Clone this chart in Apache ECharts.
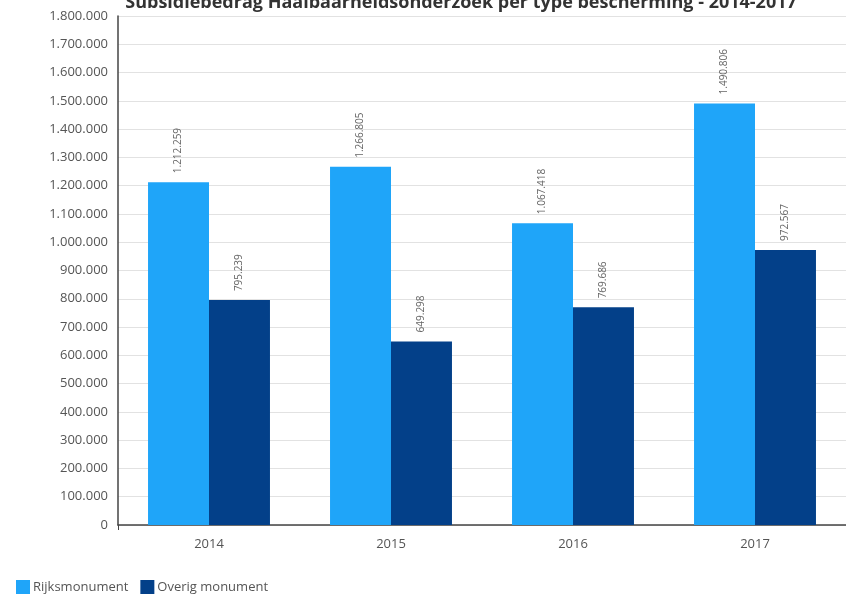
<!DOCTYPE html>
<html><head><meta charset="utf-8">
<script src="https://cdn.jsdelivr.net/npm/echarts@6/dist/echarts.min.js"></script>
<style>html,body{margin:0;padding:0;background:#fff}#c{width:846px;height:598px}</style>
</head><body><div id="c"></div>
<script>
const titleText = 'Subsidiebedrag Haalbaarheidsonderzoek per type bescherming - 2014-2017';
const categories = ['2014', '2015', '2016', '2017'];
const rijksmonument = [1212259, 1266805, 1067418, 1490806];
const overigMonument = [795239, 649298, 769686, 972567];
const seriesNames = ['Rijksmonument', 'Overig monument'];

function fmt(v) { return String(v).replace(/\B(?=(\d{3})+(?!\d))/g, '.'); }
const font = '"Open Sans", "Noto Sans", sans-serif';
const chart = echarts.init(document.getElementById('c'));
const labelCfg = {
  show: true, position: 'top', rotate: 90, align: 'left', verticalAlign: 'middle',
  distance: 9, color: '#666', fontSize: 10, fontFamily: font,
  formatter: p => fmt(p.value)
};
chart.setOption({
  animation: false,
  title: { text: titleText, left: 456, textAlign: 'center', top: -11,
    textStyle: { fontSize: 18, fontWeight: 'bold', color: '#333', fontFamily: font } },
  legend: { left: 11, bottom: -1, itemWidth: 14, itemHeight: 14, itemGap: 12,
    icon: 'rect', textStyle: { color: '#555', fontSize: 13, fontFamily: font, padding: [0, 0, 0, -2] },
    data: seriesNames },
  grid: { left: 118, top: 16, width: 734, height: 509, containLabel: false },
  xAxis: { type: 'category', data: categories,
    axisLine: { lineStyle: { color: '#444', width: 1.5 } },
    axisTick: { show: true, length: 5, interval: (i) => i === 0, lineStyle: { color: '#444' } },
    axisLabel: { color: '#555', fontSize: 13, fontFamily: font, margin: 13 } },
  yAxis: { type: 'value', min: 0, max: 1800000, interval: 100000,
    axisLine: { show: true, lineStyle: { color: '#444', width: 1.5 } },
    axisTick: { show: false },
    splitLine: { lineStyle: { color: '#e2e2e2', width: 1 } },
    axisLabel: { color: '#555', fontSize: 13, fontFamily: font, margin: 10, formatter: v => fmt(v) } },
  series: [
    { name: seriesNames[0], type: 'bar', data: rijksmonument, barGap: '0%', barCategoryGap: '33%',
      itemStyle: { color: '#1FA5F9' }, label: labelCfg },
    { name: seriesNames[1], type: 'bar', data: overigMonument,
      itemStyle: { color: '#034089' }, label: labelCfg }
  ]
});
</script></body></html>
